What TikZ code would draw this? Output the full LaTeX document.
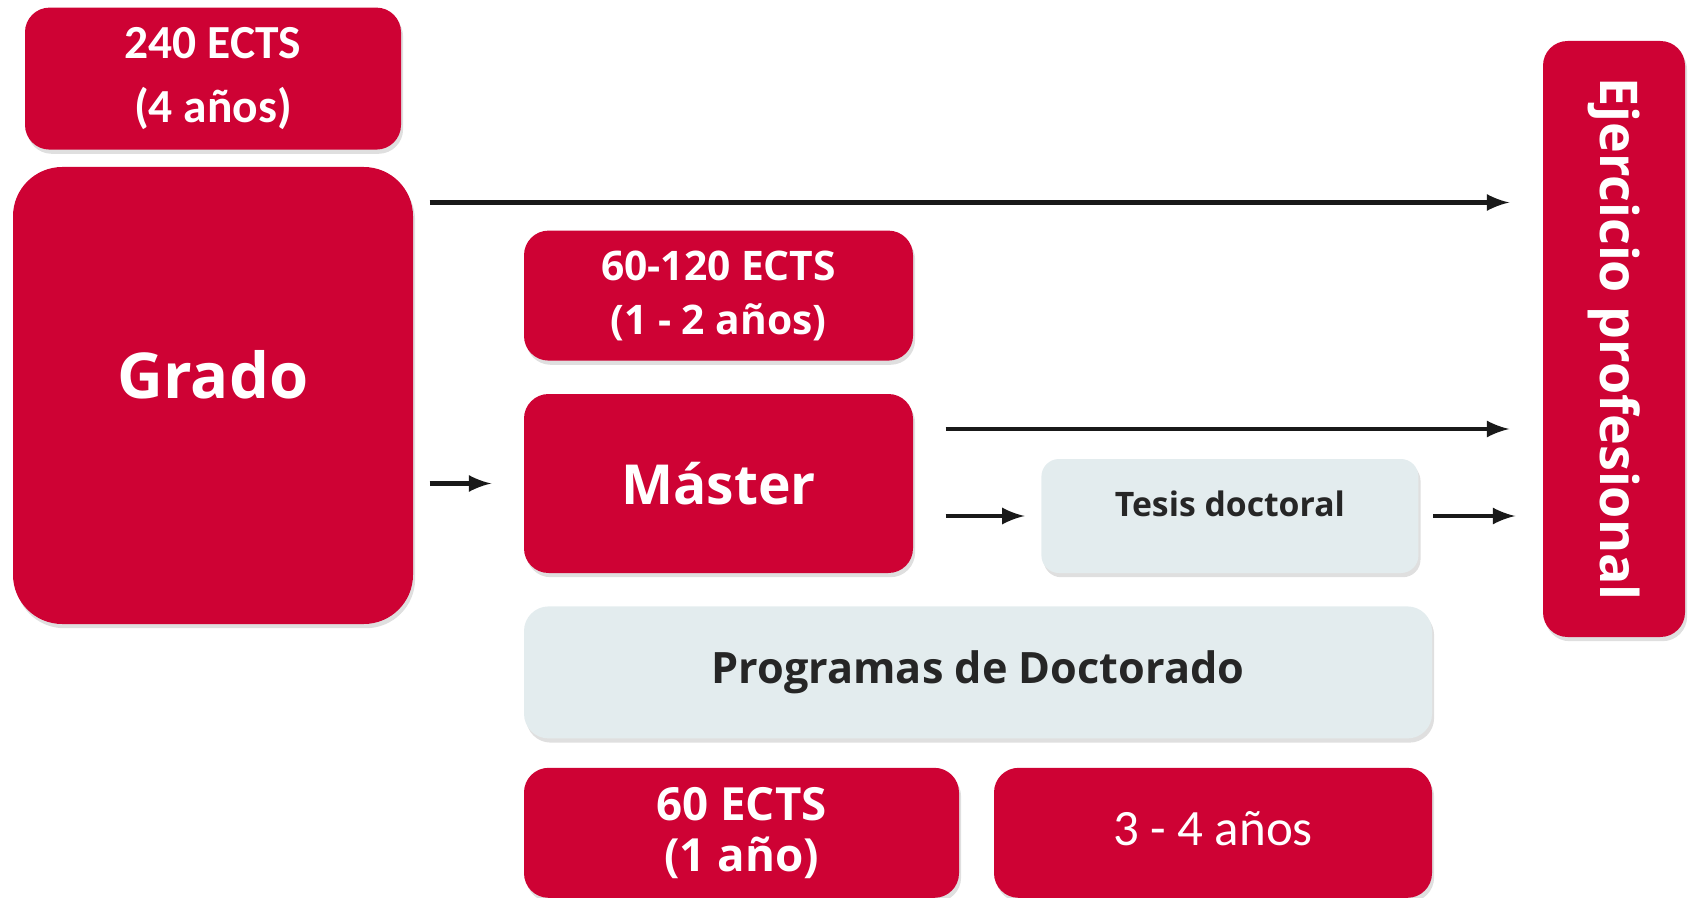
\documentclass[tikz,border=0pt]{standalone}
\usepackage{fontspec}
\setmainfont{Open Sans}
\newfontfamily\calibfont{Carlito}
\usepackage{tikz}
\usetikzlibrary{positioning,shadows,calc}
\definecolor{ucred}{RGB}{206,2,52}
\definecolor{ucgris}{RGB}{227,236,238}

\begin{document}
\begin{tikzpicture}[
    % Estilos de las cajas
    caja/.style={rectangle, rounded corners=7pt, inner sep=0pt, align=center, drop shadow={opacity=0.25, shadow xshift=0.6pt, shadow yshift=-1.2pt}},
    roja/.style={caja, fill=ucred, text=white, font=\bfseries},
    gris/.style={caja, fill=ucgris, text=black!85, font=\bfseries},
    arrow/.style={->, >=latex, line width=1.2pt, color=black!90}
]
\useasboundingbox (0,0) rectangle (16.94,8.97);

% Grado
\node[roja, rounded corners=14pt, minimum width=4cm, minimum height=4.57cm, font=\bfseries\fontsize{18}{20}\selectfont] (grado) at (2.13,5.015) {\raisebox{0.42cm}{Grado}};
\node[roja, minimum width=3.76cm, minimum height=1.42cm, font=\calibfont\bfseries\fontsize{13.5}{18}\selectfont, above=0.16cm of grado] (ects240) {240 ECTS\\(4 años)};

% Master
\node[roja, minimum width=3.89cm, minimum height=1.79cm, font=\bfseries\fontsize{15.7}{18}\selectfont] (master) at (7.185,4.135) {Máster};
\node[roja, minimum width=3.89cm, minimum height=1.30cm, font=\bfseries\fontsize{11.6}{15.4}\selectfont, above=0.32cm of master] (ects120) {60-120 ECTS\\(1 - 2 años)};

% Doctorado
\node[gris, minimum width=9.08cm, minimum height=1.32cm, font=\bfseries\fontsize{12.3}{14}\selectfont, below right=0.32cm and 0cm of master.south west] (programas) {Programas de Doctorado};
\node[gris, rounded corners=5pt, minimum width=3.77cm, minimum height=1.14cm, font=\bfseries\fontsize{9.6}{12}\selectfont, above right=0cm and 1.27cm of master.south east] (tesis) {\raisebox{0.24cm}{Tesis doctoral}};
\node[roja, minimum width=4.35cm, minimum height=1.30cm, font=\bfseries\fontsize{13}{14.5}\selectfont, below right=0.28cm and 0cm of programas.south west] (ects60) {60 ECTS\\(1 año)};
\node[roja, minimum width=4.38cm, minimum height=1.30cm, font=\calibfont\fontsize{14.5}{17}\selectfont, below left=0.28cm and 0cm of programas.south east] (duracion) {\raisebox{0.08cm}{3 - 4 años}};

% Ejercicio profesional
\node[roja, minimum width=1.42cm, minimum height=5.96cm, font=\bfseries\fontsize{14.8}{16}\selectfont] (ejercicio) at (16.14,5.58) {\rotatebox{-90}{Ejercicio profesional}};

% Flechas
\coordinate (g1) at ([shift={(0.16cm,1.93cm)}]grado.east);
\coordinate (m1) at ([shift={(0.32cm,0.545cm)}]master.east);
\draw[arrow, shorten >=0.33cm] (g1) -- (g1 -| ejercicio.west);
\draw[arrow, shorten <=0.16cm, shorten >=0.32cm] (master.west -| grado.east) -- (master.west);
\draw[arrow, shorten >=0.33cm] (m1) -- (m1 -| ejercicio.west);
\draw[arrow, shorten <=0.32cm, shorten >=0.16cm] (tesis.west -| master.east) -- (tesis.west);
\draw[arrow, shorten <=0.14cm, shorten >=0.27cm] (tesis.east) -- (tesis.east -| ejercicio.west);

\end{tikzpicture}
\end{document}
